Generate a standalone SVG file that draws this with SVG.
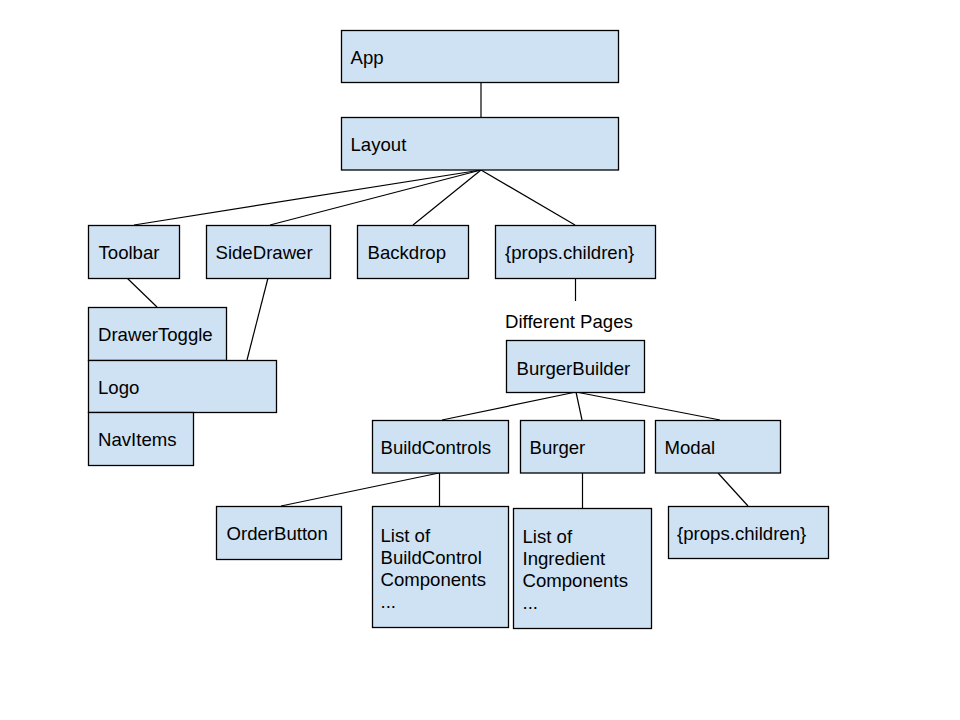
<svg xmlns="http://www.w3.org/2000/svg" width="960" height="720" viewBox="0 0 960 720">
<style>
.box{fill:#cfe2f3;stroke:#000;stroke-width:1.3}
.t{font-family:"Liberation Sans",Arial,sans-serif;font-size:18.6px;fill:#000}
.c line{stroke:#000;stroke-width:1.2}
</style>
<rect width="960" height="720" fill="#fff"/>
<g class="c" id="connectors">
<line x1="481" y1="82" x2="481" y2="118"/>
<line x1="481" y1="170" x2="134" y2="225"/>
<line x1="481" y1="170" x2="270" y2="225"/>
<line x1="481" y1="170" x2="413" y2="225"/>
<line x1="481" y1="170" x2="575" y2="225"/>
<line x1="127" y1="278" x2="157" y2="307"/>
<line x1="268" y1="278" x2="247" y2="360"/>
<line x1="575.5" y1="278" x2="575.5" y2="301"/>
<line x1="576" y1="392" x2="442" y2="420"/>
<line x1="576" y1="392" x2="582" y2="420"/>
<line x1="576" y1="392" x2="720" y2="420"/>
<line x1="439" y1="473" x2="281" y2="506"/>
<line x1="439.5" y1="473" x2="439.5" y2="506"/>
<line x1="582.5" y1="473" x2="582.5" y2="508"/>
<line x1="718" y1="473" x2="748" y2="506"/>
</g>
<g id="app"><rect class="box" x="341.5" y="30.5" width="277" height="52"/><text class="t" x="350.5" y="63.5">App</text></g>
<g id="layout"><rect class="box" x="341.5" y="117.5" width="277" height="52.5"/><text class="t" x="350.5" y="150.5">Layout</text></g>
<g id="toolbar"><rect class="box" x="88.5" y="225.5" width="91" height="53"/><text class="t" x="98.5" y="259">Toolbar</text></g>
<g id="sidedrawer"><rect class="box" x="206.5" y="225.5" width="124" height="53"/><text class="t" x="215.5" y="259">SideDrawer</text></g>
<g id="backdrop"><rect class="box" x="357.5" y="225.5" width="111" height="53"/><text class="t" x="367.5" y="259">Backdrop</text></g>
<g id="props-children"><rect class="box" x="495.5" y="225.5" width="160" height="53"/><text class="t" x="505" y="259">{props.children}</text></g>
<g id="drawertoggle"><rect class="box" x="88.5" y="307.5" width="138" height="53"/><text class="t" x="98" y="341">DrawerToggle</text></g>
<g id="logo"><rect class="box" x="88.5" y="360.5" width="188" height="52"/><text class="t" x="98" y="394">Logo</text></g>
<g id="navitems"><rect class="box" x="88.5" y="412.5" width="105" height="53"/><text class="t" x="98" y="446">NavItems</text></g>
<g id="different-pages"><text class="t" x="505" y="328">Different Pages</text></g>
<g id="burgerbuilder"><rect class="box" x="506.5" y="340.5" width="138" height="52"/><text class="t" x="516.5" y="374.5">BurgerBuilder</text></g>
<g id="buildcontrols"><rect class="box" x="372.5" y="420.5" width="136" height="52.5"/><text class="t" x="380.5" y="454">BuildControls</text></g>
<g id="burger"><rect class="box" x="520.5" y="420.5" width="124" height="52.5"/><text class="t" x="529.5" y="454">Burger</text></g>
<g id="modal"><rect class="box" x="655.5" y="420.5" width="125" height="52.5"/><text class="t" x="664.5" y="454">Modal</text></g>
<g id="orderbutton"><rect class="box" x="216.5" y="506.5" width="125" height="53"/><text class="t" x="226.5" y="540">OrderButton</text></g>
<g id="list-buildcontrol"><rect class="box" x="372.5" y="506.5" width="136" height="121"/><text class="t" x="380.5" y="541.5">List of</text><text class="t" x="380.5" y="563.5">BuildControl</text><text class="t" x="380.5" y="585.5">Components</text><text class="t" x="380.5" y="607.5">...</text></g>
<g id="list-ingredient"><rect class="box" x="513.5" y="508.5" width="138" height="120"/><text class="t" x="522.5" y="542.5">List of</text><text class="t" x="522.5" y="564.5">Ingredient</text><text class="t" x="522.5" y="586.5">Components</text><text class="t" x="522.5" y="608.5">...</text></g>
<g id="modal-children"><rect class="box" x="668.5" y="506.5" width="160" height="52"/><text class="t" x="677" y="540">{props.children}</text></g>
</svg>
